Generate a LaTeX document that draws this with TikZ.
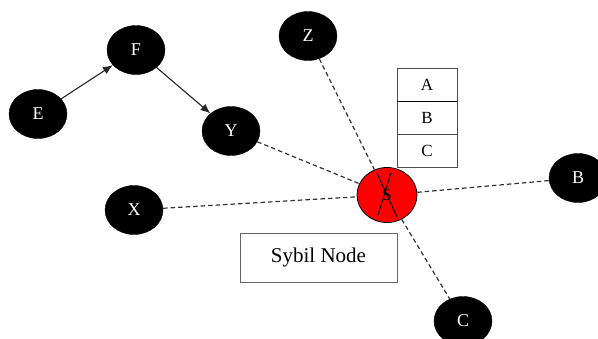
\documentclass[tikz,border=0pt]{standalone}
\usepackage{fontspec}
\setmainfont{Liberation Serif}
\usetikzlibrary{shapes.geometric,arrows.meta}
\begin{document}
\begin{tikzpicture}[x=1pt,y=-1pt,
  bnode/.style={ellipse,fill=black,draw=black,minimum width=58pt,minimum height=49pt,inner sep=0pt,text=white,font=\fontsize{18}{18}\selectfont},
  dl/.style={dash pattern=on 4.5pt off 3pt,line width=1.2pt,draw=black!80},
  al/.style={line width=1.1pt,draw=black!85,-{Latex[length=10pt,width=8pt]}}]
\useasboundingbox (0,0) rectangle (598,338);
\node[bnode] (E) at (38,114) {E};
\node[bnode] (F) at (136,50) {F};
\node[bnode] (Y) at (231,131) {Y};
\node[bnode] (Z) at (308,36) {Z};
\node[bnode] (B) at (578,178) {B};
\node[bnode] (X) at (134,210) {X};
\node[bnode] (C) at (463,321) {C};
\node[ellipse,fill=red,draw=black,line width=0.8pt,minimum width=60pt,minimum height=55pt,inner sep=0pt,font=\fontsize{17}{17}\selectfont] (S) at (387,195) {S};
\draw[line width=1pt] (377,173) -- (397,217);
\draw[line width=1pt] (391,173) -- (378,215);
\draw[al] (E) -- (F);
\draw[al] (F) -- (Y);
\draw[dl] (Z) -- (S);
\draw[dl] (S) -- (C);
\draw[dl] (Y) -- (S);
\draw[dl] (X) -- (S);
\draw[dl] (S) -- (B);
\tikzset{cell/.style={rectangle,draw=black!70,line width=0.8pt,minimum width=60pt,minimum height=33pt,inner sep=0pt,font=\fontsize{17}{17}\selectfont}}
\node[cell] (A1) at (427,84.5) {A};
\node[cell] (B1) at (427,117.5) {B};
\node[cell] (C1) at (427,150.5) {C};
\draw[line width=1.5pt] (A1.south west) -- (A1.south east);
\node[rectangle,draw=black!60,line width=0.8pt,minimum width=157pt,minimum height=49pt,inner sep=0pt,font=\fontsize{21}{21}\selectfont] (SN) at (318.5,257.5) {Sybil Node};
\end{tikzpicture}
\end{document}
